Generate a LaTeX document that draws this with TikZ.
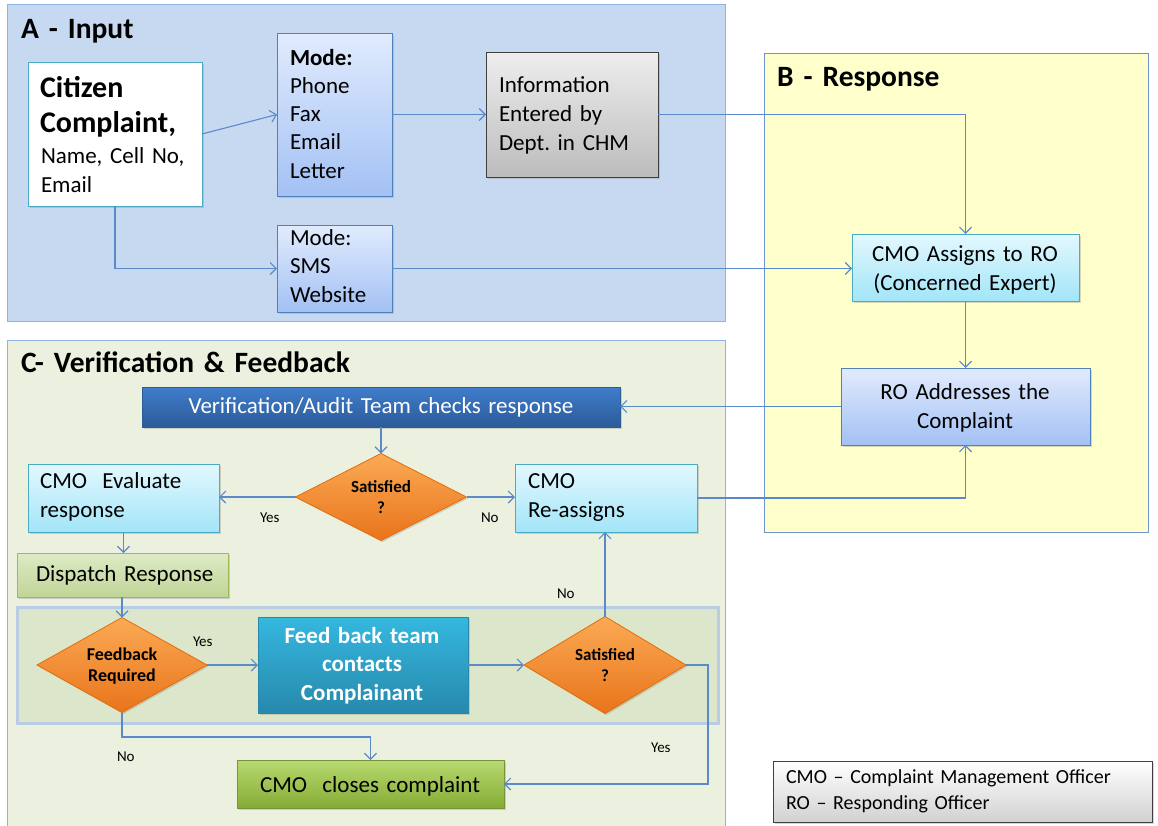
\documentclass[tikz,border=0pt]{standalone}
\usepackage{fontspec}
\setmainfont{Carlito}
\frenchspacing
\usetikzlibrary{shapes.geometric,arrows.meta,fit,shadows}
\definecolor{regAfill}{HTML}{C6D9F1}
\definecolor{regAline}{HTML}{8EB4E3}
\definecolor{regBfill}{HTML}{FFFFCC}
\definecolor{regBline}{HTML}{6C94CF}
\definecolor{regCfill}{HTML}{EBF1DE}
\definecolor{bandfill}{HTML}{DCE6CA}
\definecolor{bandline}{HTML}{B8CCE6}
\definecolor{conncol}{HTML}{5C8AC9}
\definecolor{modetop}{HTML}{E1EBFD}
\definecolor{modebot}{HTML}{A3C1F4}
\definecolor{modeline}{HTML}{4F81BD}
\definecolor{cyantop}{HTML}{E3F8FE}
\definecolor{cyanbot}{HTML}{A2E5F8}
\definecolor{cyanline}{HTML}{4BACC6}
\definecolor{graytop}{HTML}{EEEEEE}
\definecolor{graybot}{HTML}{BCBCBC}
\definecolor{grayline}{HTML}{3F3F3F}
\definecolor{vertop}{HTML}{3F7DCB}
\definecolor{verbot}{HTML}{2C5B97}
\definecolor{orgtop}{HTML}{FBAA55}
\definecolor{orgbot}{HTML}{E8741A}
\definecolor{orgline}{HTML}{E46C0A}
\definecolor{disptop}{HTML}{DEEAC6}
\definecolor{dispbot}{HTML}{C0D597}
\definecolor{displine}{HTML}{9BBB59}
\definecolor{teamtop}{HTML}{35B8DF}
\definecolor{teambot}{HTML}{2788AC}
\definecolor{closetop}{HTML}{B8DA70}
\definecolor{closebot}{HTML}{85AB35}
\definecolor{closeline}{HTML}{77933C}
\newcommand\fsz[2]{\fontsize{#1}{#2}\selectfont}
\tikzset{
  region/.style={inner sep=0pt, outer sep=0pt, line width=1pt},
  boxbase/.style={inner sep=0pt, outer sep=0pt, line width=1pt,
    drop shadow={shadow xshift=1.5pt, shadow yshift=-1.5pt, opacity=0.3}},
  whitebox/.style={boxbase, draw=cyanline, fill=white},
  modebox/.style={boxbase, draw=modeline, top color=modetop, bottom color=modebot},
  cyanbox/.style={boxbase, draw=cyanline, top color=cyantop, bottom color=cyanbot},
  graybox/.style={boxbase, draw=grayline, top color=graytop, bottom color=graybot},
  verbox/.style={boxbase, draw=verbot, top color=vertop, bottom color=verbot},
  dispbox/.style={boxbase, draw=displine, top color=disptop, bottom color=dispbot},
  teambox/.style={boxbase, draw=teambot, top color=teamtop, bottom color=teambot},
  closebox/.style={boxbase, draw=closeline, top color=closetop, bottom color=closebot},
  legbox/.style={boxbase, draw=grayline, top color=white, bottom color=black!18},
  diam/.style={diamond, inner sep=0pt, outer sep=0pt, line width=0.8pt, draw=orgline,
    top color=orgtop, bottom color=orgbot,
    drop shadow={shadow xshift=1.5pt, shadow yshift=-1.5pt, opacity=0.3}},
  conn/.style={draw=conncol, line width=1.1pt, -{Straight Barb[length=6pt,width=12pt]}},
  lbl/.style={inner sep=0pt, outer sep=0pt, anchor=base west, align=left, text width=450pt},
  clbl/.style={inner sep=0pt, outer sep=0pt, anchor=base, align=center, text width=450pt},
  small/.style={inner sep=0pt, outer sep=0pt, anchor=base west, font=\fsz{15}{18}},
  fbig/.style={font=\fsz{29.5}{35}\bfseries},
  fcit/.style={font=\fsz{30}{35}\bfseries},
}
\begin{document}
\begin{tikzpicture}[x=1pt,y=-1pt]
\useasboundingbox (0,0) rectangle (1158,825);
\fill[white] (0,0) rectangle (1158,825);
% regions
\node[region, draw=regAline, fill=regAfill, fit={(7,4) (725,321)}] (regA) {};
\node[region, draw=regBline, fill=regBfill, fit={(764,53) (1148,532)}] (regB) {};
\node[region, draw=regAline, fill=regCfill, fit={(7,340) (725,830)}] (regC) {};
\node[region, draw=bandline, line width=3pt, fill=bandfill, fit={(17,607) (718,723)}] (band) {};
% titles
\node[lbl, fbig] (tA) at (21,38) {A\hspace{10pt}-\hspace{10pt}Input};
\node[lbl, fbig] (tB) at (777,86) {B\hspace{10pt}-\hspace{10pt}Response};
\node[lbl, fbig] (tC) at (21,372) {C-\ Verification\ \& Feedback};
% boxes
\node[whitebox, fit={(28,62) (202,206)}] (cit) {};
\node[modebox, fit={(277,33) (392,196)}] (mode1) {};
\node[modebox, fit={(277,225) (392,312)}] (mode2) {};
\node[graybox, fit={(486,52) (658,177)}] (info) {};
\node[cyanbox, fit={(852,234) (1079,301)}] (assign) {};
\node[modebox, fit={(841,368) (1090,445)}] (ro) {};
\node[verbox, fit={(142,387) (620,427)}] (ver) {};
\node[diam, minimum width=171pt, minimum height=87pt] (sat1) at (381,497) {};
\node[cyanbox, fit={(28,464) (219,532)}] (eval) {};
\node[cyanbox, fit={(515,464) (697,532)}] (reas) {};
\node[dispbox, fit={(17,553) (228,597)}] (disp) {};
\node[diam, minimum width=170pt, minimum height=95pt] (fb) at (122,665) {};
\node[teambox, fit={(258,617) (468,713)}] (team) {};
\node[diam, minimum width=162pt, minimum height=97pt] (sat2) at (605,665) {};
\node[closebox, fit={(237,760) (504,808)}] (close) {};
\node[legbox, fit={(773,761) (1152,822)}] (leg) {};
% texts
\node[lbl, fcit] (citA) at (40,97) {Citizen\\Complaint,};
\node[lbl, font=\fsz{23}{29}] (citB) at (41,163) {Name, Cell No,\\Email};
\node[lbl, font=\fsz{23}{28.3}] (m1t) at (290,65) {\textbf{Mode:}\\Phone\\Fax\\Email\\Letter};
\node[lbl, font=\fsz{23}{28.5}] (m2t) at (290,245) {Mode:\\SMS\\Website};
\node[lbl, font=\fsz{23}{29}] (inft) at (499,92) {Information\\Entered by\\Dept. in CHM};
\node[clbl, font=\fsz{23}{29}] (asst) at (965,261) {CMO Assigns to RO\\(Concerned Expert)};
\node[clbl, font=\fsz{23}{29}] (rot) at (965,399) {RO Addresses the\\Complaint};
\node[clbl, text=white, font=\fsz{23}{29}] (vert) at (381,413) {Verification/Audit Team checks response};
\node[clbl, font=\fsz{17}{21}\bfseries] (s1t) at (381,492) {Satisfied\\?};
\node[lbl, font=\fsz{23}{29.5}] (evt) at (40,488) {CMO\ \ Evaluate\\response};
\node[lbl, font=\fsz{23}{29.5}] (ret) at (528,488) {CMO\\Re-assigns};
\node[lbl, font=\fsz{23}{29}] (dit) at (36,581) {Dispatch Response};
\node[clbl, font=\fsz{18}{21}\bfseries] (fbt) at (122,660) {Feedback\\Required};
\node[clbl, text=white, font=\fsz{23}{28.5}\bfseries] (tmt) at (362,643) {Feed back team\\contacts\\Complainant};
\node[clbl, font=\fsz{17}{21}\bfseries] (s2t) at (605,660) {Satisfied\\?};
\node[clbl, font=\fsz{23}{29}] (clt) at (370,792) {CMO\ \ closes complaint};
\node[lbl, font=\fsz{20}{26}] (legt) at (786,783) {CMO – Complaint Management Officer\\RO – Responding Officer};
\node[small] (y1) at (260,522) {Yes};
\node[small] (n1) at (481,522) {No};
\node[small] (n2) at (557,598) {No};
\node[small] (y2) at (193,646) {Yes};
\node[small] (y3) at (651,752) {Yes};
\node[small] (n3) at (117,761) {No};
% connectors
\draw[conn] (cit.east) -- (mode1.west);
\draw[conn] (mode1.east) -- (info.west);
\draw[conn] (cit.south) |- (mode2.west);
\draw[conn] (mode2.east) -- (mode2.east -| assign.west);
\draw[conn] (info.east) -| (assign.north);
\draw[conn] (assign.south) -- (ro.north);
\draw[conn] (ro.west) -- (ro.west -| ver.east);
\draw[conn] (ver.south) -- (sat1.north);
\draw[conn] (sat1.west) -- (sat1.west -| eval.east);
\draw[conn] (sat1.east) -- (sat1.east -| reas.west);
\draw[conn] (reas.east) -| (ro.south);
\draw[conn] (eval.south) -- (eval.south |- disp.north);
\draw[conn] (disp.south -| fb.north) -- (fb.north);
\draw[conn] (fb.east) -- (team.west);
\draw[conn] (team.east) -- (sat2.west);
\draw[conn] (sat2.north) -- (sat2.north |- reas.south);
\coordinate (yesturn) at (708,665);
\draw[conn] (sat2.east) -- (yesturn) |- (close.east);
\coordinate (noturn) at (122,737);
\draw[conn] (fb.south) -- (noturn) -| (close.north);
\end{tikzpicture}
\end{document}
